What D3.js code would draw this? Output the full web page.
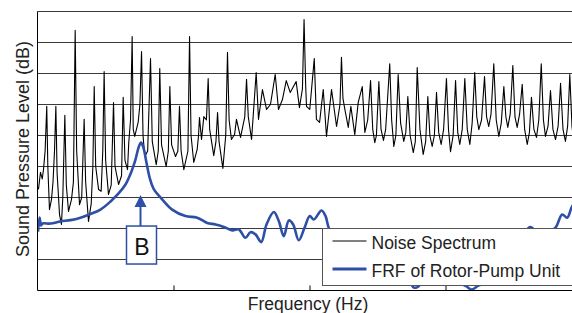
<!DOCTYPE html>
<html>
<head>
<meta charset="utf-8">
<script src="https://cdn.jsdelivr.net/npm/d3@7"></script>
<style>
  body { margin: 0; background: #fff; }
  text { font-family: "Liberation Sans", Arial, sans-serif; fill: #222; }
</style>
</head>
<body>
<div id="chart"></div>
<script>
// noise spectrum: [frequency (Hz), level (dB)]
const noiseSpectrum = [
  [0.7, 32.6], [2.2, 38.1], [3.5, 36], [4.4, 39], [5.6, 45], [6.8, 59.4], [7.6, 40],
  [8.8, 26.1], [10.3, 29.4], [11.4, 35], [12.5, 45], [13.5, 59.4], [14.4, 38], [16.2, 24.5],
  [17.6, 21.3], [18.6, 30], [20.1, 56.5], [21.2, 34], [22.8, 25.5], [25.0, 29.4], [26.4, 35],
  [27.7, 83.9], [28.8, 45], [30.9, 27.7], [32.5, 30], [34.3, 55.2], [35.4, 35], [37.5, 22.3],
  [39.5, 28], [40.7, 40], [41.7, 65.8], [42.8, 40], [44.9, 32.6], [46.8, 32], [48.0, 45],
  [49.0, 70.6], [50.1, 42], [52.2, 31.0], [54.2, 34], [55.9, 60.6], [57.0, 40], [59.6, 34.2],
  [61.8, 37], [63.0, 62.3], [64.3, 42], [66.2, 39.0], [67.1, 47.7], [68.4, 55], [69.6, 81.9],
  [70.4, 52], [71.5, 49.7], [74.0, 54.2], [75.3, 60], [76.5, 77.1], [77.6, 50], [78.9, 43.2],
  [81.0, 45], [83.1, 74.8], [84.4, 48], [87.3, 40.6], [88.8, 45], [89.9, 71.6], [91.2, 47],
  [94.6, 40.0], [96.2, 45], [97.3, 65.8], [98.6, 47], [101.5, 43.2], [103.2, 45], [104.4, 59.4],
  [105.6, 45], [107.6, 39.0], [110.6, 45], [111.8, 81.9], [112.9, 50], [114.9, 41.3],
  [117.4, 45.5], [118.4, 50], [119.1, 55.8], [120.6, 48.7], [122.3, 56.1], [124.2, 55],
  [125.5, 68.4], [126.6, 52], [129.6, 43.5], [131.2, 48], [132.4, 57.4], [133.5, 48],
  [136.3, 39.4], [138.4, 50], [139.7, 76.8], [140.9, 55], [142.6, 48.7], [144.9, 50.3],
  [146.3, 55.2], [149.3, 49.4], [152.4, 56], [153.7, 68.1], [155, 56], [157.4, 48.7],
  [160.8, 70.3], [162.5, 55.2], [165.4, 64.8], [168.4, 58.4], [171.3, 60.0], [174.8, 69.7],
  [177.2, 58.4], [180.1, 61.6], [182.9, 67.7], [185.8, 63.9], [190.2, 67.4], [192.6, 59.0],
  [194.8, 65], [196.0, 87.4], [197.2, 66], [197.8, 59.4], [200.2, 58.4], [203.5, 74.8],
  [205.1, 55.2], [207.4, 54.2], [210.1, 64.8], [212.5, 49.7], [216.2, 64.8], [219.9, 52.9],
  [222.4, 60], [223.5, 75.2], [224.6, 62], [226.0, 58.4], [228.5, 52.6], [230.4, 59.4],
  [233.3, 50.3], [235.8, 60.6], [238.8, 65.8], [240.7, 51.0], [242.8, 55], [244.9, 67.7],
  [246.5, 52], [248.0, 47.7], [249.2, 50], [251.0, 67.4], [252.6, 52], [254.4, 48.4],
  [256.0, 52], [259.0, 73.1], [260.4, 55], [262.0, 46.5], [263.5, 50], [265.2, 69.7],
  [267.0, 54], [269.3, 48.1], [270.8, 51], [272.3, 62.6], [274.0, 50], [276.3, 44.5],
  [277.8, 48], [279.2, 71.9], [281.2, 52], [283.6, 43.9], [285.4, 48], [287.0, 62.6],
  [288.5, 50], [290.2, 46.5], [291.8, 50], [293.4, 63.9], [295.0, 51], [296.8, 47.1],
  [298.6, 52], [300.7, 68.4], [302.2, 52], [303.7, 44.8], [305.6, 50], [307.4, 67.7],
  [309.0, 51], [310.5, 47.1], [312.3, 52], [314.2, 68.4], [316.0, 52], [317.9, 47.1],
  [319.6, 54], [321.5, 70.3], [323.0, 56], [324.5, 51.9], [326.5, 55], [328.7, 69.0],
  [330.2, 56], [331.8, 52.9], [333.5, 57], [335.5, 73.1], [337.3, 55], [339.2, 49.7],
  [341.0, 54], [342.9, 65.8], [344.4, 56], [345.8, 52.6], [347.6, 57], [349.5, 72.6],
  [351.1, 56], [352.7, 52.6], [354.5, 57], [356.4, 66.5], [358.2, 52], [360.1, 47.1],
  [361.7, 51], [363.2, 62.3], [365.0, 52], [366.9, 49.4], [368.6, 55], [370.4, 73.1],
  [372.0, 55], [373.5, 49.7], [375.4, 53], [377.2, 64.5], [379.0, 52], [380.9, 48.7],
  [382.8, 53], [384.6, 66.8], [386.4, 52], [388.2, 48.1], [389.8, 53], [391.4, 69.7],
  [393.0, 53], [394.1, 48.7]
];

// FRF of rotor-pump unit: [frequency (Hz), level (dB)]
const frf = [
  [0.4, 19.0], [1.5, 23.5], [2.6, 21.0], [3.7, 21.6], [9.6, 21.6], [16.9, 22.3],
  [24.3, 22.7], [31.6, 23.5], [39.0, 24.7], [46.3, 26.1], [53.7, 28.7], [59.6, 31.3],
  [64.7, 34.2], [69.1, 38.4], [72.1, 42.3], [74.3, 46.1], [76.1, 47.7], [77.9, 46.1],
  [80.1, 41.3], [82.4, 36.5], [85.3, 32.9], [91.7, 29.4], [99.0, 26.1], [108.8, 24.0],
  [117.4, 23.5], [124.8, 21.8], [130.9, 21.3], [137.0, 20.5], [143.2, 19.4], [148.0, 19.7],
  [152.9, 17.0], [156.6, 18.8], [160.3, 18.1], [164.5, 15.6], [168.4, 21.3], [173.8, 25.3],
  [177.4, 22.4], [181.1, 17.5], [184.8, 22.6], [188.0, 21.3], [192.1, 16.2], [196.3, 20.2],
  [200.2, 24.0], [203.2, 22.9], [208.8, 25.8], [211.8, 24.0], [213.8, 20.7], [219.1, 14.8],
  [226.5, 18.1], [237.5, 11.6], [248.5, 13.2], [259.6, 8.4], [270.6, 6.1], [276.5, 1.0],
  [280.1, 1.3], [285.3, 5.2], [296.3, 3.5], [307.4, 2.9], [315.4, 1.3], [319.1, 0.3],
  [324.3, 1.6], [329.4, 2.3], [336.8, 7.4], [347.8, 13.2], [356.6, 18.1], [362.5, 20.5],
  [367.6, 18.7], [375.7, 19.0], [380.9, 20.3], [385.8, 24.5], [389.5, 23.5], [393.2, 27.2],
  [399.3, 30.0]
];

const freqTicks = [100, 200, 300];
const dbGrid = [10, 20, 30, 40, 50, 60, 70, 80, 90];
const legendLabels = ['Noise Spectrum', 'FRF of Rotor-Pump Unit'];
const markFreq = 75, markTip = 30.8, markLabel = 'B';

const blue = '#2d4fa5';
const [width, height] = [572, 313];

const x = d3.scaleLinear().domain([0, 400]).range([37.5, 581.5]);
const y = d3.scaleLinear().domain([0, 90]).range([290.5, 11.5]);

const svg = d3.select('#chart')
  .append('svg')
  .attr('width', width)
  .attr('height', height);

svg.append('clipPath').attr('id', 'plot')
  .append('rect')
  .attr('x', x(0)).attr('y', y(90) - 2)
  .attr('width', x(400) - x(0)).attr('height', y(0) - y(90) + 2);

// horizontal gridlines
svg.append('g')
  .selectAll('line')
  .data(dbGrid)
  .join('line')
  .attr('x1', x(0)).attr('x2', width)
  .attr('y1', (d) => y(d)).attr('y2', (d) => y(d))
  .style('stroke', '#3a3a3a')
  .style('stroke-width', 1);

// series
const line = d3.line().x((d) => x(d[0])).y((d) => y(d[1]));

svg.append('path')
  .datum(noiseSpectrum)
  .attr('clip-path', 'url(#plot)')
  .attr('d', line)
  .style('fill', 'none')
  .style('stroke', '#000')
  .style('stroke-width', 1.1)
  .style('stroke-linejoin', 'round');

svg.append('path')
  .datum(frf)
  .attr('clip-path', 'url(#plot)')
  .attr('d', line.curve(d3.curveCatmullRom))
  .style('fill', 'none')
  .style('stroke', blue)
  .style('stroke-width', 2.6)
  .style('stroke-linejoin', 'round');

// axes
const xAxis = d3.axisTop(x).tickValues(freqTicks).tickSize(5).tickFormat('');
const gx = svg.append('g')
  .attr('transform', `translate(0 ${y(0)})`)
  .call(xAxis);
gx.select('.domain').remove();
gx.selectAll('line').style('stroke', '#000');

svg.append('line')
  .attr('x1', x(0)).attr('x2', width)
  .attr('y1', y(0)).attr('y2', y(0))
  .style('stroke', '#000');
svg.append('line')
  .attr('x1', x(0)).attr('x2', x(0))
  .attr('y1', y(90)).attr('y2', y(0))
  .style('stroke', '#000');

// axis titles
svg.append('text')
  .attr('x', 308).attr('y', 309.5)
  .attr('text-anchor', 'middle')
  .style('font-size', '17.5px')
  .text('Frequency (Hz)');

svg.append('text')
  .attr('transform', `translate(28.5 ${(y(0) + y(90)) / 2 - 2}) rotate(-90)`)
  .attr('text-anchor', 'middle')
  .style('font-size', '18px')
  .text('Sound Pressure Level (dB)');

// annotation B
const mx = Math.round(x(markFreq)) + 0.5;
const tipY = y(markTip);
const ann = svg.append('g');
ann.append('line')
  .attr('x1', mx).attr('x2', mx)
  .attr('y1', tipY + 10).attr('y2', tipY + 32)
  .style('stroke', blue).style('stroke-width', 2);
ann.append('path')
  .attr('d', `M${mx},${tipY} L${mx - 6},${tipY + 12} L${mx + 6},${tipY + 12} Z`)
  .style('fill', blue);
ann.append('rect')
  .attr('x', mx - 14).attr('y', tipY + 31)
  .attr('width', 30).attr('height', 38)
  .style('fill', '#fff')
  .style('stroke', blue).style('stroke-width', 1.5);
ann.append('text')
  .attr('x', mx + 1.5).attr('y', tipY + 60)
  .attr('text-anchor', 'middle')
  .style('font-size', '23px')
  .style('fill', '#111')
  .text(markLabel);

// legend
const lg = svg.append('g').attr('transform', 'translate(322.5 228.5)');
lg.append('rect')
  .attr('width', 270).attr('height', 57)
  .style('fill', '#fff')
  .style('stroke', '#555');
const items = lg.selectAll('g.item')
  .data(legendLabels)
  .join('g')
  .attr('transform', (d, i) => `translate(0 ${12.5 + i * 28})`);
items.append('line')
  .attr('x1', 10).attr('x2', 44)
  .style('stroke', (d, i) => i ? blue : '#000')
  .style('stroke-width', (d, i) => i ? 3 : 1);
items.append('text')
  .attr('x', 49).attr('y', 7.5)
  .style('font-size', '17.5px')
  .text((d) => d);
</script>
</body>
</html>
